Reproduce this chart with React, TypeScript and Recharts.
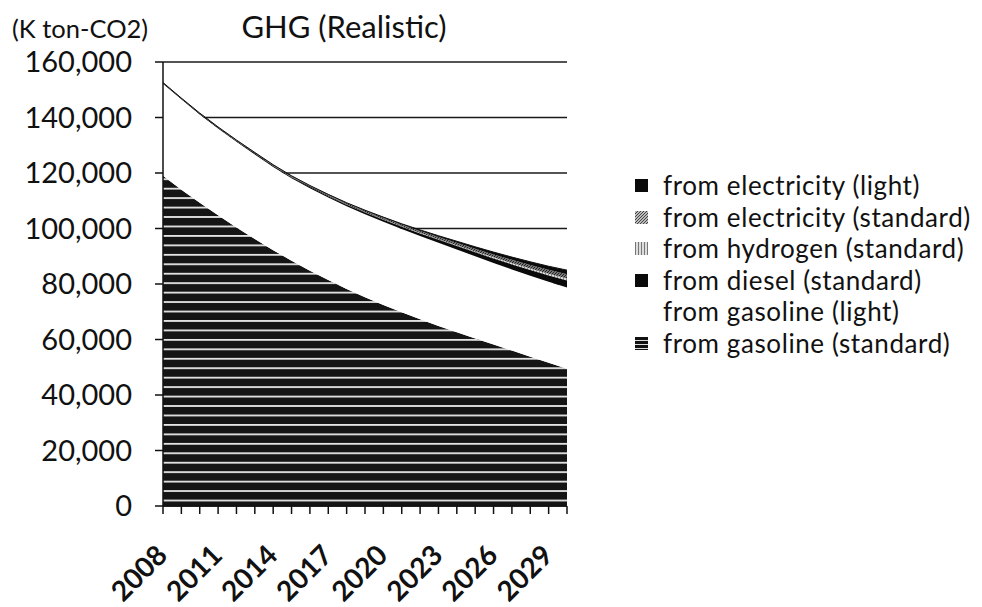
import React from 'react';
import { AreaChart, Area, XAxis, YAxis, CartesianGrid } from 'recharts';

const years = [2008, 2009, 2010, 2011, 2012, 2013, 2014, 2015, 2016, 2017, 2018, 2019, 2020, 2021, 2022, 2023, 2024, 2025, 2026, 2027, 2028, 2029, 2030];
const labeledYears = [2008, 2011, 2014, 2017, 2020, 2023, 2026, 2029];
const yTicks = [0, 20000, 40000, 60000, 80000, 100000, 120000, 140000, 160000];

const gasolineStandard = [119000, 114000, 109300, 104800, 100400, 96200, 92200, 88400, 84800, 81400, 78200, 75200, 72400, 69800, 67300, 64900, 62600, 60400, 58200, 56000, 53800, 51600, 49500];
const gasolineLight = [33200, 32550, 31800, 31250, 30880, 30500, 30000, 29700, 29700, 29750, 29800, 29950, 30050, 30000, 30000, 29950, 29850, 29600, 29400, 29250, 29200, 29200, 29200];
const dieselStandard = [200, 220, 240, 260, 290, 320, 360, 400, 440, 500, 560, 620, 700, 800, 920, 1060, 1220, 1400, 1600, 1820, 2050, 2300, 2600];
const hydrogenStandard = [0, 0, 0, 0, 10, 20, 30, 40, 60, 80, 100, 120, 150, 180, 220, 260, 300, 350, 400, 460, 520, 580, 650];
const electricityStandard = [200, 220, 240, 260, 280, 300, 330, 360, 390, 430, 470, 510, 560, 620, 690, 770, 860, 960, 1070, 1190, 1320, 1460, 1600];
const electricityLight = [0, 10, 20, 30, 40, 60, 80, 100, 110, 140, 170, 200, 240, 300, 370, 460, 570, 690, 830, 980, 1110, 1260, 1450];

const data = years.map((y, i) => ({
  year: String(y),
  gs: gasolineStandard[i],
  gl: gasolineLight[i],
  d: dieselStandard[i],
  h: hydrogenStandard[i],
  es: electricityStandard[i],
  el: electricityLight[i],
}));

const FONT = 'Lato, "DejaVu Sans", sans-serif';

const legendItems = [
  { label: 'from electricity (light)', marker: 'black' },
  { label: 'from electricity (standard)', marker: 'hatch' },
  { label: 'from hydrogen (standard)', marker: 'vstripe' },
  { label: 'from diesel (standard)', marker: 'black' },
  { label: 'from gasoline (light)', marker: 'none' },
  { label: 'from gasoline (standard)', marker: 'hstripe' },
];

const Marker = ({ kind }: { kind: string }) => {
  return (
    <svg width={13} height={13} style={{ display: 'block' }}>
      {kind === 'black' && <rect x={0} y={0} width={13} height={13} fill="#0a0a0a" />}
      {kind === 'hatch' && <rect x={0} y={0} width={13} height={13} fill="url(#lgHatch)" />}
      {kind === 'vstripe' && <rect x={0} y={0} width={13} height={13} fill="url(#lgV)" />}
      {kind === 'hstripe' && <rect x={0} y={0} width={13} height={13} fill="url(#lgH)" />}
    </svg>
  );
};

const XTick = (props: any) => {
  const { x, y, payload } = props;
  if (!labeledYears.includes(Number(payload.value))) return null;
  const ax = x + 6;
  const ay = y + 41;
  return (
    <text x={ax} y={ay} transform={`rotate(-45, ${ax}, ${ay})`} textAnchor="end" fontFamily={FONT} fontSize={28} fontWeight={700} fill="#111">
      {payload.value}
    </text>
  );
};

export default function App() {
  return (
    <div style={{ position: 'relative', width: 966, height: 599, fontFamily: FONT, background: '#fff' }}>
      <svg width={0} height={0} style={{ position: 'absolute' }}>
        <defs>
          <pattern id="lgHatch" patternUnits="userSpaceOnUse" width={3} height={3}>
            <rect width={3} height={3} fill="#bbb" />
            <path d="M0,3 L3,0" stroke="#444" strokeWidth={1} />
          </pattern>
          <pattern id="lgV" patternUnits="userSpaceOnUse" width={3} height={3}>
            <rect width={3} height={3} fill="#ddd" />
            <rect width={1} height={3} fill="#777" />
          </pattern>
          <pattern id="lgH" patternUnits="userSpaceOnUse" width={13} height={4}>
            <rect width={13} height={4} fill="#111" />
            <rect y={3} width={13} height={1} fill="#ddd" />
          </pattern>
        </defs>
      </svg>
      <AreaChart width={966} height={599} data={data} margin={{ top: 54, right: 407, bottom: 0, left: 0 }}>
        <defs>
          <pattern id="gsPat" patternUnits="userSpaceOnUse" x={0} y={0.2} width={10} height={9.45}>
            <rect width={10} height={9.45} fill="#151515" />
            <rect y={0} width={10} height={1.8} fill="#e6e6e6" />
          </pattern>
          <pattern id="esPat" patternUnits="userSpaceOnUse" width={3} height={3}>
            <rect width={3} height={3} fill="#777" />
            <path d="M0,3 L3,0" stroke="#222" strokeWidth={1} />
          </pattern>
          <pattern id="hPat" patternUnits="userSpaceOnUse" width={3} height={3}>
            <rect width={3} height={3} fill="#e0e0e0" />
            <rect width={1} height={3} fill="#888" />
          </pattern>
        </defs>
        <CartesianGrid vertical={false} stroke="#1a1a1a" strokeWidth={1.5} />
        <XAxis
          dataKey="year"
          interval={0}
          tickSize={8}
          tickMargin={2}
          height={101}
          axisLine={{ stroke: '#111', strokeWidth: 1.5 }}
          tickLine={{ stroke: '#111', strokeWidth: 1.5 }}
          tick={<XTick />}
        />
        <YAxis
          width={155}
          domain={[0, 160000]}
          ticks={yTicks}
          tickSize={8}
          tickMargin={23}
          interval={0}
          axisLine={{ stroke: '#111', strokeWidth: 1.5 }}
          tickLine={{ stroke: '#111', strokeWidth: 1.5 }}
          tick={{ fill: '#111', fontSize: 29, fontFamily: FONT }}
          tickFormatter={(v: number) => v.toLocaleString('en-US')}
        />
        <Area type="linear" dataKey="gs" stackId="1" stroke="none" fill="url(#gsPat)" fillOpacity={1} isAnimationActive={false} />
        <Area type="linear" dataKey="gl" stackId="1" stroke="none" fill="#ffffff" fillOpacity={1} isAnimationActive={false} />
        <Area type="linear" dataKey="d" stackId="1" stroke="#111" strokeWidth={0.8} fill="#0a0a0a" fillOpacity={1} isAnimationActive={false} />
        <Area type="linear" dataKey="h" stackId="1" stroke="none" fill="url(#hPat)" fillOpacity={1} isAnimationActive={false} />
        <Area type="linear" dataKey="es" stackId="1" stroke="none" fill="url(#esPat)" fillOpacity={1} isAnimationActive={false} />
        <Area type="linear" dataKey="el" stackId="1" stroke="#111" strokeWidth={1} fill="#0a0a0a" fillOpacity={1} isAnimationActive={false} />
      </AreaChart>
      <div style={{ position: 'absolute', left: 4, top: 7, fontSize: 25.5, color: '#111', whiteSpace: 'nowrap', lineHeight: '26px' }}>(K ton-CO2)</div>
      <div style={{ position: 'absolute', left: 231, top: 2, width: 210, textAlign: 'center', fontSize: 31, color: '#111', whiteSpace: 'nowrap', lineHeight: '32px' }}>GHG (Realistic)</div>
      <div style={{ position: 'absolute', left: 627, top: 162, color: '#111' }}>
        {legendItems.map((it) => (
          <div key={it.label} style={{ display: 'flex', alignItems: 'center', height: 31.5, lineHeight: '31.5px', fontSize: 26, letterSpacing: 0.6, whiteSpace: 'nowrap' }}>
            <div style={{ width: 28 }}>
              <Marker kind={it.marker} />
            </div>
            <span>{it.label}</span>
          </div>
        ))}
      </div>
    </div>
  );
}
